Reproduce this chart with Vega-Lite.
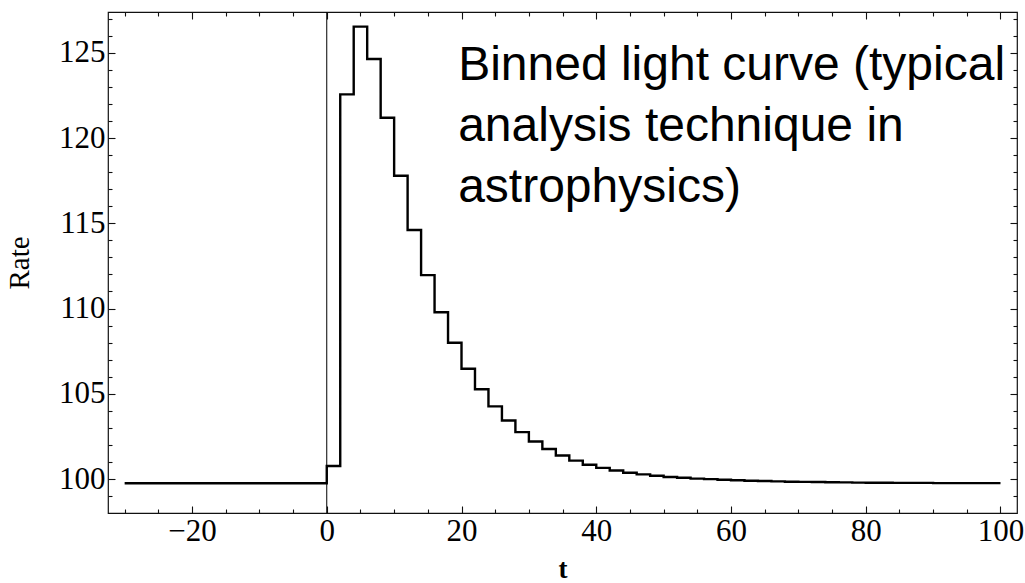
{
  "$schema": "https://vega.github.io/schema/vega-lite/v6.json",
  "width": 909,
  "height": 501,
  "autosize": {"type": "none"},
  "padding": {"left": 108, "top": 12, "right": 8, "bottom": 70},
  "background": "white",
  "config": {
    "view": {"stroke": "#111", "strokeWidth": 1.2},
    "axis": {
      "grid": false,
      "domain": false,
      "tickColor": "#111",
      "tickWidth": 1.1,
      "labelFont": "Liberation Serif",
      "labelColor": "black",
      "labelFontSize": 31,
      "labelFlush": false,
      "labelOverlap": false,
      "titleFont": "Liberation Serif",
      "titleColor": "black"
    }
  },
  "datasets": {
    "curve": [
      {"t": -30, "rate": 99.75},
      {"t": 0, "rate": 100.76},
      {"t": 2, "rate": 122.56},
      {"t": 4, "rate": 126.53},
      {"t": 6, "rate": 124.63},
      {"t": 8, "rate": 121.19},
      {"t": 10, "rate": 117.79},
      {"t": 12, "rate": 114.6},
      {"t": 14, "rate": 111.96},
      {"t": 16, "rate": 109.78},
      {"t": 18, "rate": 107.99},
      {"t": 20, "rate": 106.47},
      {"t": 22, "rate": 105.26},
      {"t": 24, "rate": 104.26},
      {"t": 26, "rate": 103.43},
      {"t": 28, "rate": 102.75},
      {"t": 30, "rate": 102.2},
      {"t": 32, "rate": 101.76},
      {"t": 34, "rate": 101.38},
      {"t": 36, "rate": 101.08},
      {"t": 38, "rate": 100.84},
      {"t": 40, "rate": 100.65},
      {"t": 42, "rate": 100.5},
      {"t": 44, "rate": 100.37},
      {"t": 46, "rate": 100.27},
      {"t": 48, "rate": 100.19},
      {"t": 50, "rate": 100.12},
      {"t": 52, "rate": 100.07},
      {"t": 54, "rate": 100.02},
      {"t": 56, "rate": 99.99},
      {"t": 58, "rate": 99.96},
      {"t": 60, "rate": 99.93},
      {"t": 62, "rate": 99.9},
      {"t": 64, "rate": 99.88},
      {"t": 66, "rate": 99.86},
      {"t": 68, "rate": 99.84},
      {"t": 70, "rate": 99.83},
      {"t": 72, "rate": 99.82},
      {"t": 74, "rate": 99.81},
      {"t": 76, "rate": 99.8},
      {"t": 78, "rate": 99.79},
      {"t": 80, "rate": 99.78},
      {"t": 82, "rate": 99.78},
      {"t": 84, "rate": 99.77},
      {"t": 86, "rate": 99.77},
      {"t": 88, "rate": 99.77},
      {"t": 90, "rate": 99.76},
      {"t": 92, "rate": 99.76},
      {"t": 94, "rate": 99.76},
      {"t": 96, "rate": 99.76},
      {"t": 98, "rate": 99.76},
      {"t": 100, "rate": 99.76}
    ],
    "zero": [{"t": 0}],
    "note": [{"t": 19.5, "rate": 123.4, "label": "Binned light curve (typical\nanalysis technique in\nastrophysics)"}]
  },
  "layer": [
    {
      "data": {"name": "zero"},
      "mark": {"type": "rule", "color": "black", "strokeWidth": 1},
      "encoding": {
        "x": {"field": "t", "type": "quantitative", "axis": null}
      }
    },
    {
      "data": {"name": "curve"},
      "mark": {"type": "line", "interpolate": "step-after", "color": "black", "strokeWidth": 2.4},
      "encoding": {
        "x": {
          "field": "t", "type": "quantitative",
          "scale": {"domain": [-32.47, 102.45], "nice": false, "zero": false},
          "axis": {"orient": "bottom", "values": [-20, 0, 20, 40, 60, 80, 100], "tickSize": -7, "labelPadding": 10, "title": "t", "titleFontSize": 27, "titleFontWeight": "bold", "titlePadding": 10}
        },
        "y": {
          "field": "rate", "type": "quantitative",
          "scale": {"domain": [98.006, 127.39], "nice": false, "zero": false},
          "axis": {"orient": "left", "values": [100, 105, 110, 115, 120, 125], "tickSize": -7, "labelPadding": 10, "title": "Rate", "titleFontSize": 29, "titleFontWeight": "normal", "titlePadding": 24}
        }
      }
    },
    {
      "data": {"name": "curve"},
      "mark": {"type": "line", "strokeOpacity": 0},
      "encoding": {
        "x": {"field": "t", "type": "quantitative",
          "axis": {"orient": "bottom", "values": [-30, -25, -15, -10, -5, 5, 10, 15, 25, 30, 35, 45, 50, 55, 65, 70, 75, 85, 90, 95], "tickSize": -4, "labels": false, "title": null}},
        "y": {"field": "rate", "type": "quantitative",
          "axis": {"orient": "left", "values": [99, 101, 102, 103, 104, 106, 107, 108, 109, 111, 112, 113, 114, 116, 117, 118, 119, 121, 122, 123, 124, 126, 127], "tickSize": -4, "labels": false, "title": null}}
      }
    },
    {
      "data": {"name": "curve"},
      "mark": {"type": "line", "strokeOpacity": 0},
      "encoding": {
        "x": {"field": "t", "type": "quantitative",
          "axis": {"orient": "top", "values": [-20, 0, 20, 40, 60, 80, 100], "tickSize": -7, "labels": false, "title": null}},
        "y": {"field": "rate", "type": "quantitative",
          "axis": {"orient": "right", "values": [100, 105, 110, 115, 120, 125], "tickSize": -7, "labels": false, "title": null}}
      }
    },
    {
      "data": {"name": "curve"},
      "mark": {"type": "line", "strokeOpacity": 0},
      "encoding": {
        "x": {"field": "t", "type": "quantitative",
          "axis": {"orient": "top", "values": [-30, -25, -15, -10, -5, 5, 10, 15, 25, 30, 35, 45, 50, 55, 65, 70, 75, 85, 90, 95], "tickSize": -4, "labels": false, "title": null}},
        "y": {"field": "rate", "type": "quantitative",
          "axis": {"orient": "right", "values": [99, 101, 102, 103, 104, 106, 107, 108, 109, 111, 112, 113, 114, 116, 117, 118, 119, 121, 122, 123, 124, 126, 127], "tickSize": -4, "labels": false, "title": null}}
      }
    },
    {
      "data": {"name": "note"},
      "mark": {"type": "text", "align": "left", "baseline": "alphabetic", "font": "Liberation Sans", "fontSize": 48, "lineHeight": 61, "lineBreak": "\n", "color": "black"},
      "encoding": {
        "x": {"field": "t", "type": "quantitative", "axis": null},
        "y": {"field": "rate", "type": "quantitative", "axis": null},
        "text": {"field": "label"}
      }
    }
  ],
  "resolve": {"axis": {"x": "independent", "y": "independent"}}
}
